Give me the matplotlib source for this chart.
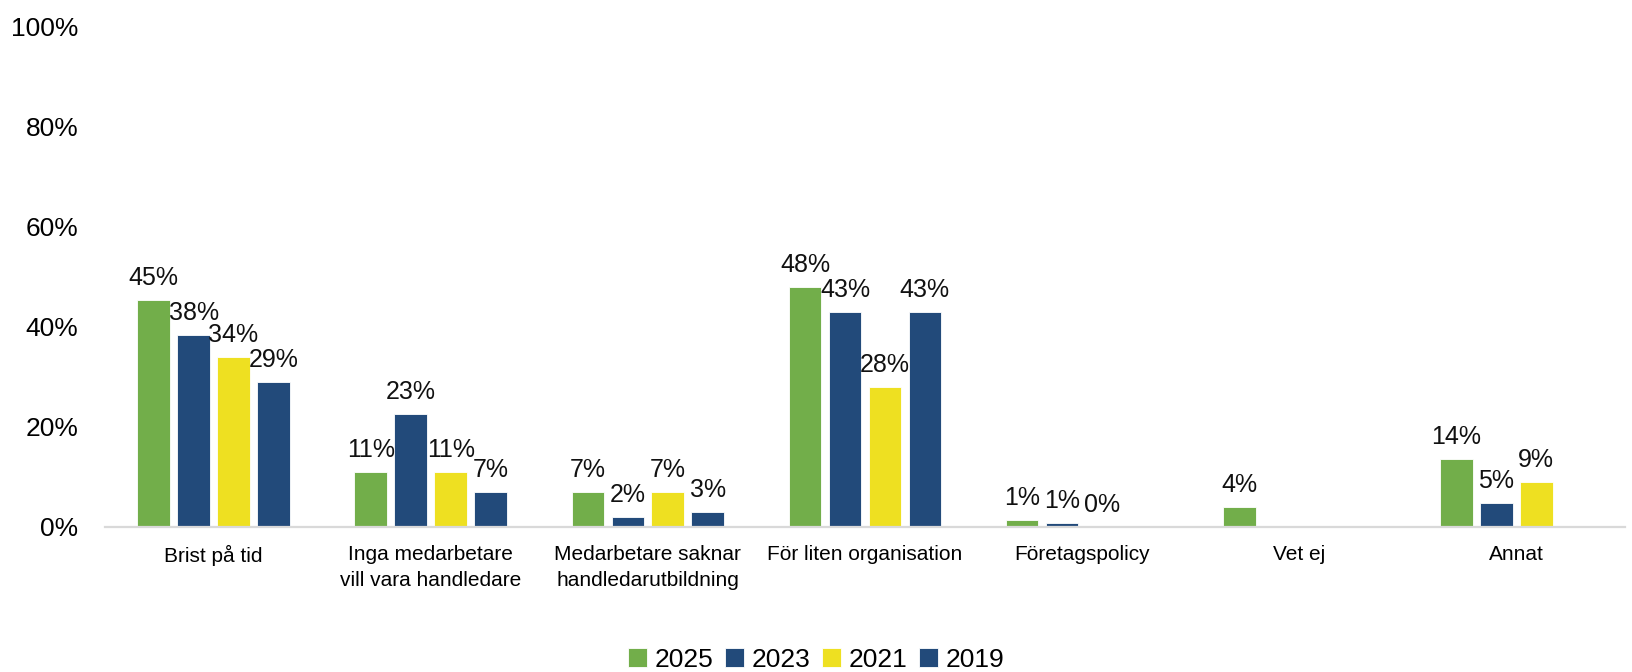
import numpy as np
import matplotlib
matplotlib.use("Agg")
import matplotlib.pyplot as plt
from matplotlib import font_manager

# Pick a narrow sans if present, otherwise a regular one
available = {f.name for f in font_manager.fontManager.ttflist}
family = [f for f in ["Liberation Sans Narrow", "Liberation Sans", "DejaVu Sans"] if f in available]
plt.rcParams["font.family"] = family

categories = [
    "Brist på tid",
    "Inga medarbetare\nvill vara handledare",
    "Medarbetare saknar\nhandledarutbildning",
    "För liten organisation",
    "Företagspolicy",
    "Vet ej",
    "Annat",
]
years = ["2025", "2023", "2021", "2019"]
v2025 = [45.3, 11, 7, 48, 1.4, 4, 13.6]
v2023 = [38.3, 22.6, 2, 43, 0.8, None, 4.8]
v2021 = [34, 11, 7, 28, 0, None, 9]
v2019 = [29, 7, 3, 43, None, None, None]
series = [v2025, v2023, v2021, v2019]
colors = ["#72AE4A", "#224A7A", "#EEE021", "#224A7A"]
yticks = [0, 20, 40, 60, 80, 100]

fig = plt.figure(figsize=(16.33, 6.72), dpi=100)
ax = fig.add_axes([0.0643, 0.2158, 0.9307, 0.7455])

x = np.arange(len(categories))
slot = 0.184
bw = 0.15
for i, (vals, col, yr) in enumerate(zip(series, colors, years)):
    xs = x + (i - 1.5) * slot
    for j, v in enumerate(vals):
        if v is None:
            continue
        ax.bar(xs[j], v, width=bw, color=col, edgecolor="white", linewidth=0.6,
               label=yr if j == 0 else None)
        ax.annotate(f"{v:.0f}%", (xs[j], v), xytext=(0, 7), textcoords="offset points",
                    ha="center", va="bottom", fontsize=18, color="#111111")

ax.set_xlim(-0.5, len(categories) - 0.5)
ax.set_ylim(0, 100)
ax.set_yticks(yticks)
ax.set_yticklabels([f"{t}%" for t in yticks], fontsize=19)
ax.set_xticks(x)
ax.set_xticklabels(categories, fontsize=15, linespacing=1.45)
ax.tick_params(axis="both", length=0)
ax.tick_params(axis="y", pad=19)
ax.tick_params(axis="x", pad=13)

for s in ["top", "right", "left"]:
    ax.spines[s].set_visible(False)
ax.spines["bottom"].set_color("#D9D9D9")
ax.spines["bottom"].set_linewidth(1.6)

handles, labels = ax.get_legend_handles_labels()
fig.legend(handles, labels, loc="center", bbox_to_anchor=(0.5, 0.018), ncol=4,
           frameon=False, fontsize=19, handlelength=0.7, handleheight=0.7,
           handletextpad=0.3, columnspacing=0.45)

fig.savefig("out.png", dpi=100)
